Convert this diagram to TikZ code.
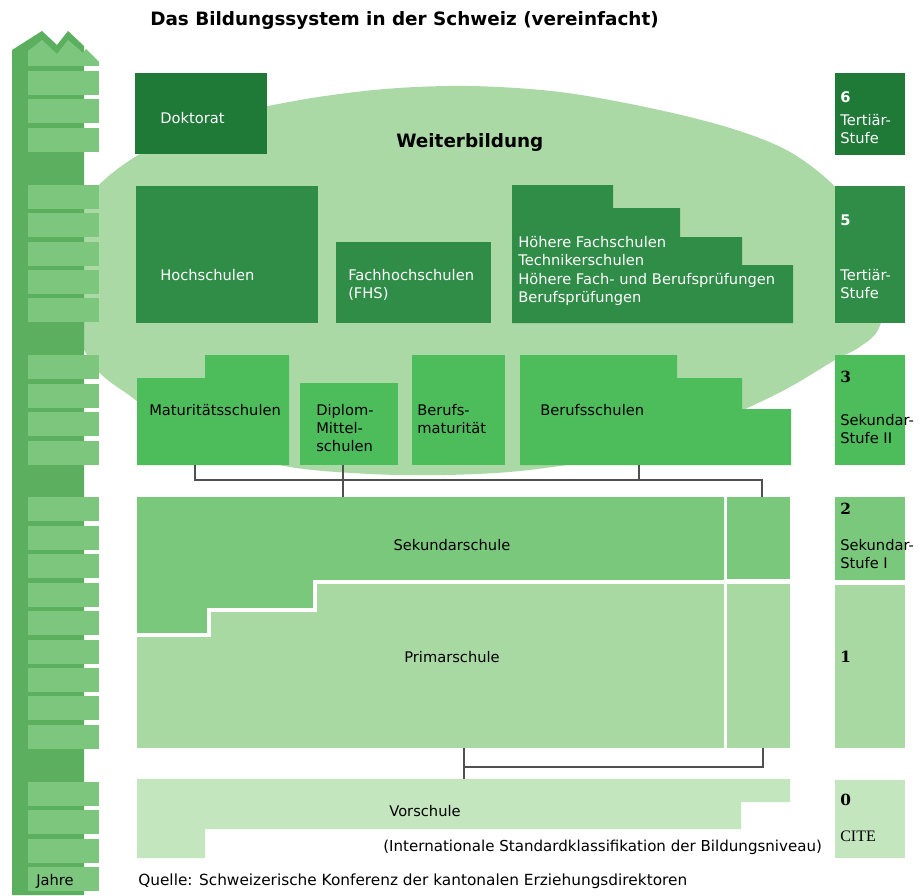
\documentclass[tikz,border=0pt]{standalone}
\usepackage{fontspec}
\setmainfont{DejaVu Sans}
\newfontfamily\numserif{DejaVu Serif}
\newfontfamily\citefont{Liberation Serif}
\definecolor{csix}{HTML}{1F7A38}
\definecolor{cfive}{HTML}{2F8D47}
\definecolor{cthree}{HTML}{4DBD5C}
\definecolor{ctwo}{HTML}{7AC87B}
\definecolor{cone}{HTML}{A9D9A3}
\definecolor{czero}{HTML}{C4E6BF}
\definecolor{cell}{HTML}{ABD9A6}
\definecolor{rdark}{HTML}{5BAF5E}
\definecolor{rlight}{HTML}{7CC77D}
\definecolor{cline}{HTML}{505050}
\tikzset{
  lbl/.style={anchor=base west, inner sep=0pt, font=\fontsize{11}{13}\selectfont},
  lblc/.style={anchor=base, inner sep=0pt, font=\fontsize{11}{13}\selectfont},
  wlbl/.style={lbl, text=white},
  bnum/.style={anchor=base west, inner sep=0pt, font=\fontsize{11}{13}\selectfont\bfseries},
  snum/.style={anchor=base west, inner sep=0pt, font=\fontsize{11.5}{13}\selectfont\numserif\bfseries},
  conn/.style={draw=cline, line width=1.1pt},
  ttl/.style={anchor=base west, inner sep=0pt, font=\fontsize{13.8}{16}\selectfont\bfseries},
}
\begin{document}
\begin{tikzpicture}[x=0.75pt, y=-0.75pt]
\useasboundingbox (0,0) rectangle (919,895);
\fill[white] (0,0) rectangle (919,895);

% ellipse "Weiterbildung"
\fill[cell] plot[smooth cycle, tension=0.55] coordinates {(66,278) (72,230) (99,185) (150,148) (220,118) (300,100) (385,89) (470,86) (560,92) (650,108) (730,128) (790,152) (838,190) (868,240) (884,295) (878,330) (858,348) (835,360) (790,387) (743,410) (680,437) (600,459) (520,471) (445,475) (370,474) (290,467) (215,448) (165,424) (133,398) (99,372) (76,332)};

% ruler
\fill[rdark] (12,895) -- (12,50) -- (42,31) -- (57,45) -- (68,31) -- (84,46) -- (84,895) -- cycle;
\fill[rlight] (28,66) -- (28,51) -- (42,40) -- (57,54) -- (68,40) -- (83,53) -- (86,49) -- (99,62) -- (99,66) -- cycle;
\foreach \i in {0,1,2,4,5,6,7,8,10,11,12,13,15,16,17,18,19,20,21,22,23,25,26,27,28}{
  \fill[rlight] (28,{71+28.43*\i}) rectangle (99,{71+28.43*\i+24});
}
\node[lbl] (jahre) at (36,885) {Jahre};

% title
\node[ttl] (title) at (150,26) {Das Bildungssystem in der Schweiz (vereinfacht)};

% level 6
\fill[csix] (135,73) rectangle (267,154);
\node[wlbl] (dok) at (160,123.5) {Doktorat};
\node[ttl] (weiter) at (396,147) {Weiterbildung};

% level 5
\fill[cfive] (136,186) rectangle (318,323);
\node[wlbl] (hoch) at (160,280.5) {Hochschulen};
\fill[cfive] (336,242) rectangle (491,323);
\node[wlbl] (fhs1) at (348,280.5) {Fachhochschulen};
\node[wlbl] (fhs2) at (348,298.5) {(FHS)};
\fill[cfive] (512,185) -- (613,185) -- (613,208) -- (680,208) -- (680,237) -- (742,237) -- (742,265) -- (793,265) -- (793,323) -- (512,323) -- cycle;
\node[wlbl] (hf1) at (518,247) {Höhere Fachschulen};
\node[wlbl] (hf2) at (518,265.5) {Technikerschulen};
\node[wlbl] (hf3) at (518,284) {Höhere Fach- und Berufsprüfungen};
\node[wlbl] (hf4) at (518,302) {Berufsprüfungen};

% level 3
\fill[cthree] (137,378) -- (205,378) -- (205,355) -- (289,355) -- (289,465) -- (137,465) -- cycle;
\node[lbl] (mat) at (149,415.5) {Maturitätsschulen};
\fill[cthree] (300,383) rectangle (398,465);
\node[lbl] (dip1) at (316,415.5) {Diplom-};
\node[lbl] (dip2) at (316,433) {Mittel-};
\node[lbl] (dip3) at (316,451.5) {schulen};
\fill[cthree] (412,355) rectangle (505,465);
\node[lbl] (bm1) at (417,415.5) {Berufs-};
\node[lbl] (bm2) at (417,433) {maturität};
\fill[cthree] (520,355) -- (677,355) -- (677,378) -- (742,378) -- (742,409) -- (791,409) -- (791,465) -- (520,465) -- cycle;
\node[lbl] (bs) at (540,415.5) {Berufsschulen};

% levels 2 and 1
\fill[cone] (137,497) rectangle (724,748);
\fill[ctwo] (137,497) -- (724,497) -- (724,582) -- (315,582) -- (315,610) -- (209,610) -- (209,635) -- (137,635) -- cycle;
\draw[white, line width=3pt] (137,634.5) -- (209,634.5) -- (209,609.5) -- (315,609.5) -- (315,581.5) -- (724,581.5);
\fill[ctwo] (727,497) rectangle (790,579);
\fill[cone] (727,584) rectangle (790,748);
\node[lblc] (sek) at (452,550.5) {Sekundarschule};
\node[lblc] (pri) at (452,662.5) {Primarschule};

% level 0
\fill[czero] (137,779) -- (790,779) -- (790,802) -- (741,802) -- (741,829) -- (205,829) -- (205,858) -- (137,858) -- cycle;
\node[lblc] (vor) at (425,816.5) {Vorschule};
\node[lbl, font=\fontsize{11.3}{13}\selectfont] (isced) at (383,851.5) {(Internationale Standardklassifikation der Bildungsniveau)};
\node[lbl, font=\fontsize{11.5}{13}\selectfont] (quelle) at (138,885.5) {Quelle: Schweizerische Konferenz der kantonalen Erziehungsdirektoren};

% connectors
\coordinate (matB) at (195,465);
\coordinate (dipB) at (343,465);
\coordinate (bsB) at (639,465);
\coordinate (jL) at (195,480);
\coordinate (jR) at (762,480);
\coordinate (sekT) at (343,497);
\coordinate (sekrT) at (762,497);
\draw[conn] (matB) -- (jL) -- (jR) -- (sekrT);
\draw[conn] (dipB) -- (sekT);
\draw[conn] (bsB) -- (bsB |- jL);
\coordinate (priB) at (464,748);
\coordinate (vorT) at (464,779);
\coordinate (prirB) at (763,748);
\coordinate (jB) at (464,767);
\coordinate (jBR) at (763,767);
\draw[conn] (priB) -- (vorT);
\draw[conn] (jB) -- (jBR) -- (prirB);

% right column
\fill[csix] (835,73) rectangle (905,155);
\node[bnum, text=white] (n6) at (840,102.5) {6};
\node[wlbl] (t6a) at (840,125.5) {Tertiär-};
\node[wlbl] (t6b) at (840,143) {Stufe};
\fill[cfive] (835,186) rectangle (905,323);
\node[bnum, text=white] (n5) at (840,225.5) {5};
\node[wlbl] (t5a) at (840,280.5) {Tertiär-};
\node[wlbl] (t5b) at (840,298.5) {Stufe};
\fill[cthree] (835,355) rectangle (905,465);
\node[snum] (n3) at (840,382.5) {3};
\node[lbl] (t3a) at (840,425.5) {Sekundar-};
\node[lbl] (t3b) at (840,443.5) {Stufe II};
\fill[ctwo] (835,497) rectangle (905,580);
\node[snum] (n2) at (840,514.5) {2};
\node[lbl] (t2a) at (840,550.5) {Sekundar-};
\node[lbl] (t2b) at (840,568.5) {Stufe I};
\fill[cone] (835,585) rectangle (905,748);
\node[snum] (n1) at (840,662.5) {1};
\fill[czero] (835,780) rectangle (905,858);
\node[snum] (n0) at (840,805.5) {0};
\node[anchor=base west, inner sep=0pt, font=\fontsize{12}{13}\selectfont\citefont] (cite) at (840,841) {CITE};
\end{tikzpicture}
\end{document}
